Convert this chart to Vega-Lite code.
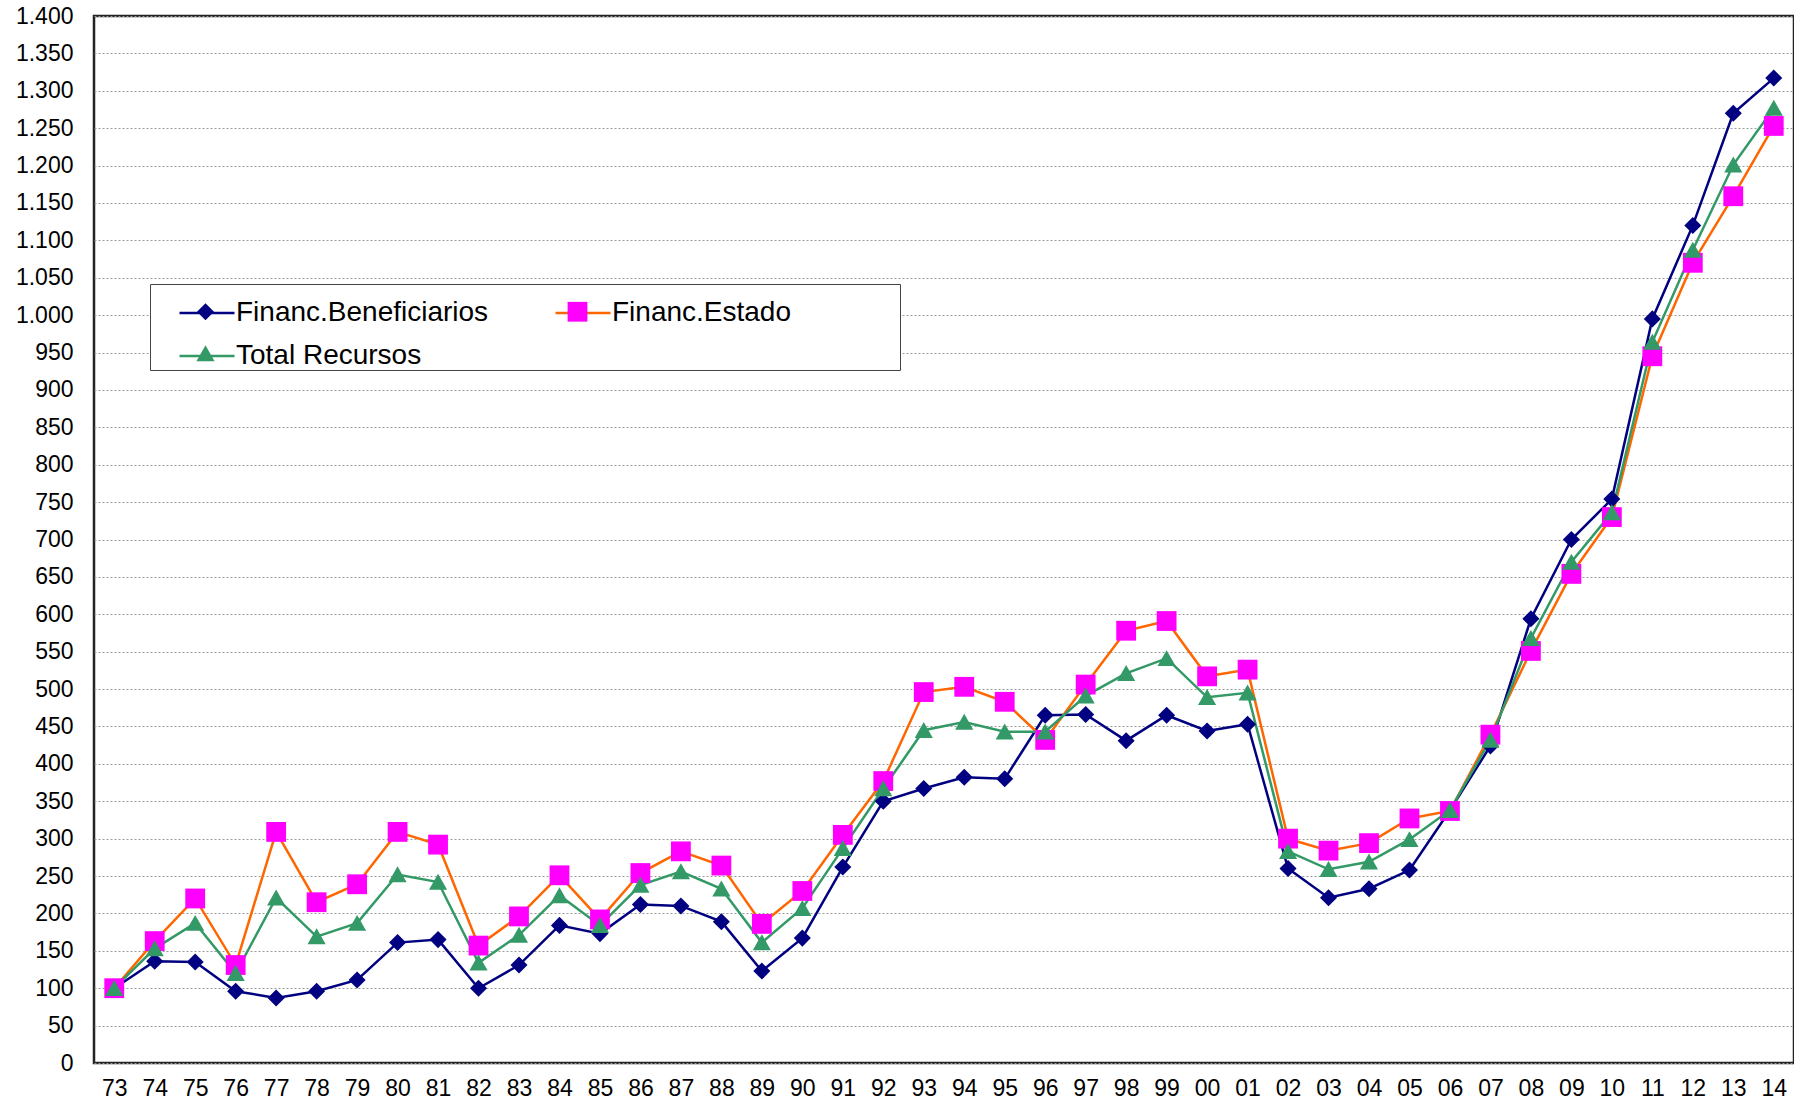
{
  "$schema": "https://vega.github.io/schema/vega-lite/v6.json",
  "width": 1700,
  "height": 1047,
  "autosize": "none",
  "padding": {"left": 94, "top": 16, "right": 0, "bottom": 43},
  "config": {
    "font": "Liberation Sans",
    "view": {"stroke": "#222", "strokeWidth": 2.5}
  },
  "datasets": {
    "raw": [
      {"year":"73","b":100,"e":100,"t":100},
      {"year":"74","b":136,"e":163,"t":153},
      {"year":"75","b":135,"e":220,"t":187},
      {"year":"76","b":96,"e":131,"t":120},
      {"year":"77","b":87,"e":309,"t":221},
      {"year":"78","b":96,"e":215,"t":169},
      {"year":"79","b":111,"e":239,"t":187},
      {"year":"80","b":161,"e":309,"t":252},
      {"year":"81","b":165,"e":292,"t":242},
      {"year":"82","b":100,"e":157,"t":134},
      {"year":"83","b":131,"e":196,"t":171},
      {"year":"84","b":184,"e":251,"t":224},
      {"year":"85","b":173,"e":192,"t":184},
      {"year":"86","b":212,"e":254,"t":238},
      {"year":"87","b":210,"e":283,"t":256},
      {"year":"88","b":189,"e":264,"t":233},
      {"year":"89","b":123,"e":186,"t":161},
      {"year":"90","b":167,"e":230,"t":207},
      {"year":"91","b":262,"e":305,"t":287},
      {"year":"92","b":350,"e":377,"t":367},
      {"year":"93","b":367,"e":496,"t":445},
      {"year":"94","b":382,"e":503,"t":456},
      {"year":"95","b":380,"e":483,"t":443},
      {"year":"96","b":465,"e":432,"t":443},
      {"year":"97","b":466,"e":506,"t":491},
      {"year":"98","b":431,"e":578,"t":521},
      {"year":"99","b":465,"e":591,"t":541},
      {"year":"00","b":444,"e":517,"t":489},
      {"year":"01","b":453,"e":526,"t":495},
      {"year":"02","b":260,"e":300,"t":283},
      {"year":"03","b":221,"e":284,"t":259},
      {"year":"04","b":233,"e":294,"t":269},
      {"year":"05","b":258,"e":327,"t":299},
      {"year":"06","b":338,"e":337,"t":338},
      {"year":"07","b":424,"e":439,"t":432},
      {"year":"08","b":594,"e":551,"t":568},
      {"year":"09","b":700,"e":654,"t":670},
      {"year":"10","b":754,"e":730,"t":736},
      {"year":"11","b":995,"e":945,"t":964},
      {"year":"12","b":1120,"e":1070,"t":1087},
      {"year":"13","b":1270,"e":1159,"t":1201},
      {"year":"14","b":1317,"e":1253,"t":1277}
    ]
  },
  "data": {"name": "raw"},
  "transform": [
    {"fold": ["b", "e", "t"], "as": ["key", "value"]},
    {"lookup": "key", "from": {"data": {"values": [
      {"key": "b", "series": "Financ.Beneficiarios"},
      {"key": "e", "series": "Financ.Estado"},
      {"key": "t", "series": "Total Recursos"}
    ]}, "key": "key", "fields": ["series"]}}
  ],
  "encoding": {
    "x": {
      "field": "year", "type": "ordinal", "sort": null,
      "scale": {"type": "point", "padding": 0.5},
      "axis": {"title": null, "labelFontSize": 23, "labelPadding": 14, "ticks": false, "domain": false, "grid": false, "labelAngle": 0, "labelColor": "#000", "labelOverlap": false}
    },
    "y": {
      "field": "value", "type": "quantitative",
      "scale": {"domain": [0, 1400], "nice": false},
      "axis": {
        "title": null,
        "values": [0,50,100,150,200,250,300,350,400,450,500,550,600,650,700,750,800,850,900,950,1000,1050,1100,1150,1200,1250,1300,1350,1400],
        "labelExpr": "replace(format(datum.value, ','), ',', '.')",
        "labelFontSize": 23, "labelPadding": 21, "labelColor": "#000",
        "ticks": false, "domain": false,
        "grid": true, "gridColor": "#9a9a9a", "gridDash": [2, 2], "gridWidth": 1
      }
    }
  },
  "layer": [
    {
      "mark": {"type": "line", "strokeWidth": 2.5},
      "encoding": {
        "stroke": {
          "field": "series", "type": "nominal",
          "scale": {"domain": ["Financ.Beneficiarios", "Financ.Estado", "Total Recursos"], "range": ["#000080", "#FF6600", "#339966"]},
          "legend": {
            "title": null, "orient": "none", "legendX": 56, "legendY": 268, "direction": "horizontal",
            "columns": 2, "symbolType": "M-1,0H1", "symbolSize": 3025, "symbolStrokeWidth": 2.5,
            "symbolOffset": 28, "labelOffset": 0, "labelFontSize": 28, "labelLimit": 1000, "labelColor": "#000",
            "padding": 0, "rowPadding": -4.5, "columnPadding": 37,
            "strokeColor": "#444", "fillColor": "white",
            "labelExpr": "datum.label == 'Financ.Estado' ? datum.label + '\u00a0\u00a0\u00a0\u00a0\u00a0\u00a0\u00a0\u00a0\u00a0\u00a0\u00a0\u00a0\u00a0\u00a0\u200b' : datum.label"
          }
        }
      }
    },
    {
      "mark": {"type": "point", "filled": true, "opacity": 1, "size": 3025, "strokeWidth": 0},
      "encoding": {
        "fill": {
          "field": "series", "type": "nominal",
          "scale": {"range": ["#000080", "#FF00FF", "#339966"]},
          "legend": {
            "title": null, "orient": "none", "legendX": 56, "legendY": 268, "zindex": 1, "direction": "horizontal",
            "columns": 2, "symbolSize": 3025, "symbolStrokeWidth": 0,
            "symbolOffset": 28, "labelOffset": 0, "labelFontSize": 28, "labelLimit": 1000, "labelOpacity": 0,
            "labelExpr": "'\u200b'",
            "padding": 0, "rowPadding": -4.5, "columnPadding": 289
          }
        },
        "shape": {
          "field": "series", "type": "nominal",
          "scale": {"range": ["M0,-0.31L0.31,0L0,0.31L-0.31,0Z", "M-0.36,-0.36H0.36V0.36H-0.36Z", "M0,-0.3L0.33,0.28H-0.33Z"]},
          "legend": {
            "title": null, "orient": "none", "legendX": 56, "legendY": 268, "zindex": 1, "direction": "horizontal",
            "columns": 2, "symbolSize": 3025, "symbolStrokeWidth": 0,
            "symbolOffset": 28, "labelOffset": 0, "labelFontSize": 28, "labelLimit": 1000, "labelOpacity": 0,
            "labelExpr": "'\u200b'",
            "padding": 0, "rowPadding": -4.5, "columnPadding": 289
          }
        }
      }
    }
  ]
}
